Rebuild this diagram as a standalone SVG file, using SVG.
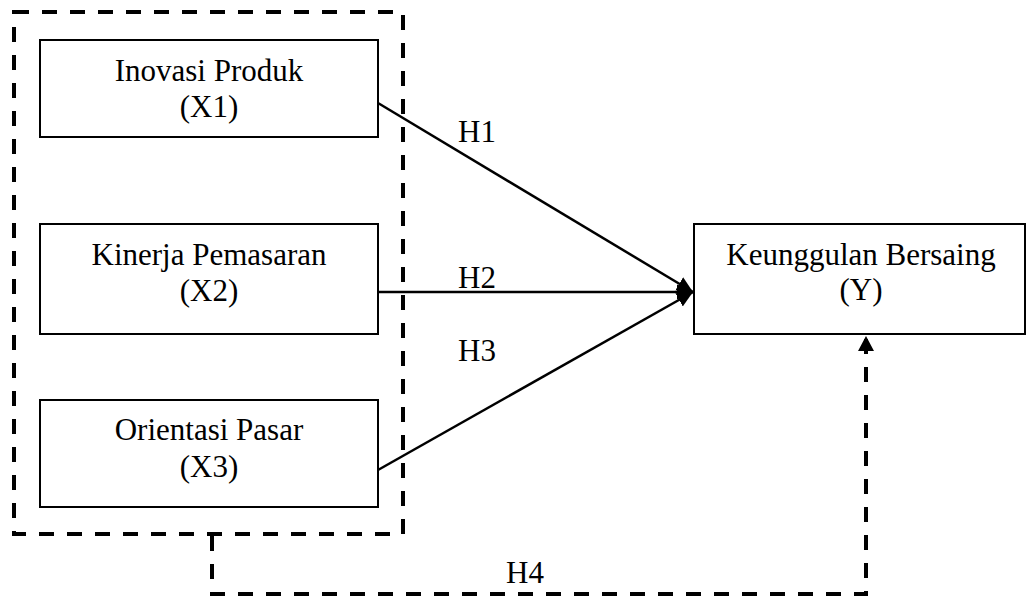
<svg xmlns="http://www.w3.org/2000/svg" width="1027" height="597" viewBox="0 0 1027 597">
<style>
  .box { fill: #fff; stroke: #000; stroke-width: 2; }
  .t { font-family: "Liberation Serif", "Times New Roman", serif; font-size: 31px; fill: #000; text-anchor: middle; }
  .lab { font-family: "Liberation Serif", "Times New Roman", serif; font-size: 31px; fill: #000; }
  .dash { fill: none; stroke: #000; stroke-width: 4; stroke-dasharray: 15 13; }
  .conn { fill: none; stroke: #000; stroke-width: 2.5; }
</style>
<defs>
  <marker id="arr" markerUnits="userSpaceOnUse" markerWidth="17" markerHeight="18" refX="16" refY="9" orient="auto">
    <path d="M0,1.5 L16,9 L0,16.5 z" fill="#000" stroke="none"/>
  </marker>
  <marker id="arrUp" markerUnits="userSpaceOnUse" markerWidth="16" markerHeight="18" refX="15" refY="8" orient="auto">
    <path d="M0,0 L15,8 L0,16 z" fill="#000" stroke="none"/>
  </marker>
</defs>
<rect width="1027" height="597" fill="#fff"/>

<g id="group-x">
  <rect class="dash" x="14" y="12" width="389" height="522"/>
</g>

<g id="node-x1">
  <rect class="box" x="40" y="40" width="338" height="97"/>
  <text class="t" x="209" y="81">Inovasi Produk</text>
  <text class="t" x="209" y="117">(X1)</text>
</g>
<g id="node-x2">
  <rect class="box" x="40" y="224" width="338" height="110"/>
  <text class="t" x="209" y="265">Kinerja Pemasaran</text>
  <text class="t" x="209" y="301">(X2)</text>
</g>
<g id="node-x3">
  <rect class="box" x="40" y="400" width="338" height="107"/>
  <text class="t" x="209" y="440">Orientasi Pasar</text>
  <text class="t" x="209" y="477">(X3)</text>
</g>
<g id="node-y">
  <rect class="box" x="694" y="224" width="331" height="110"/>
  <text class="t" x="861" y="265">Keunggulan Bersaing</text>
  <text class="t" x="861" y="300">(Y)</text>
</g>

<g id="connectors">
  <line class="conn" x1="378" y1="103" x2="693" y2="292" marker-end="url(#arr)"/>
  <line class="conn" x1="378" y1="292" x2="693" y2="292" marker-end="url(#arr)"/>
  <line class="conn" x1="378" y1="470" x2="693" y2="292" marker-end="url(#arr)"/>
  <path class="dash" d="M212,536 V594 H866 V336" marker-end="url(#arrUp)"/>
  <text class="lab" x="458" y="142">H1</text>
  <text class="lab" x="458" y="288">H2</text>
  <text class="lab" x="458" y="361">H3</text>
  <text class="lab" x="506" y="583">H4</text>
</g>
</svg>
